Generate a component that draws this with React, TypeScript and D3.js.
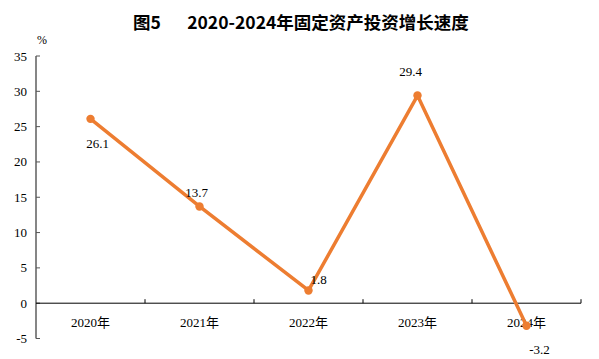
import React from "react";
import * as d3 from "d3";

const categories = ["2020年", "2021年", "2022年", "2023年", "2024年"];
const values = [26.1, 13.7, 1.8, 29.4, -3.2];
const yTicks = [-5, 0, 5, 10, 15, 20, 25, 30, 35];
const titleNo = "图5";
const titleText = "2020-2024年固定资产投资增长速度";
const unit = "%";

// label offsets [dx, dy] relative to point
const labelOffsets: [number, number][] = [
  [7, 25],
  [-3, -14],
  [10, -11],
  [-7, -24],
  [13, 24],
];

export default function App() {
  const W = 599, H = 359;
  const x0 = 36, x1 = 581;
  const x = d3.scaleBand<string>().domain(categories).range([x0, x1]).padding(0);
  const y = d3.scaleLinear().domain([-5, 35]).range([338.5, 56]);
  const cx = (c: string) => (x(c) as number) + x.bandwidth() / 2;
  const line = d3
    .line<number>()
    .x((_, i) => cx(categories[i]))
    .y((d) => y(d));
  const serif = "'Liberation Serif', 'Times New Roman', serif";
  const cjk = "'Noto Sans CJK SC', sans-serif";
  const orange = "#ED7D31";
  return (
    <svg width={W} height={H} style={{ position: "absolute", left: 0, top: 0, background: "#fff" }}>
      <rect width={W} height={H} fill="#fff" />
      <text x={147} y={29} fontFamily={cjk} fontWeight="bold" fontSize={17.5} textAnchor="middle" fill="#000">
        {titleNo}
      </text>
      <text x={328} y={29} fontFamily={cjk} fontWeight="bold" fontSize={17.5} textAnchor="middle" fill="#000">
        {titleText}
      </text>
      <text x={42} y={44} fontFamily={serif} fontSize={12} textAnchor="middle" fill="#000">
        {unit}
      </text>
      {/* y axis */}
      <line x1={x0} x2={x0} y1={y(35)} y2={y(-5)} stroke="#868686" strokeWidth={2} />
      {yTicks.map((t) => (
        <g key={t}>
          <line x1={x0} x2={x0 + 4} y1={y(t)} y2={y(t)} stroke="#555" strokeWidth={1} />
          <text x={27} y={y(t) + 4.5} fontFamily={serif} fontSize={13} textAnchor="end" fill="#000">
            {t}
          </text>
        </g>
      ))}
      {/* x axis */}
      <line x1={x0} x2={x1} y1={y(0)} y2={y(0)} stroke="#000" strokeWidth={1} />
      {categories.map((c, i) => (
        <g key={c}>
          <line
            x1={(x(c) as number) + x.bandwidth()}
            x2={(x(c) as number) + x.bandwidth()}
            y1={y(0)}
            y2={y(0) - 4}
            stroke="#000"
          />
          <text x={cx(c)} y={327} fontFamily={serif} fontSize={13} textAnchor="middle" fill="#000">
            {c.slice(0, 4)}
            <tspan fontFamily={cjk} fontSize={13}>{c.slice(4)}</tspan>
          </text>
        </g>
      ))}
      <path d={line(values) || ""} fill="none" stroke={orange} strokeWidth={3.5} strokeLinejoin="round" />
      {values.map((v, i) => (
        <circle key={i} cx={cx(categories[i])} cy={y(v)} r={4.2} fill={orange} />
      ))}
      {values.map((v, i) => (
        <text
          key={"l" + i}
          x={cx(categories[i]) + labelOffsets[i][0]}
          y={y(v) + labelOffsets[i][1] + 4.5}
          fontFamily={serif}
          fontSize={13}
          textAnchor="middle"
          fill="#000"
        >
          {v}
        </text>
      ))}
    </svg>
  );
}
